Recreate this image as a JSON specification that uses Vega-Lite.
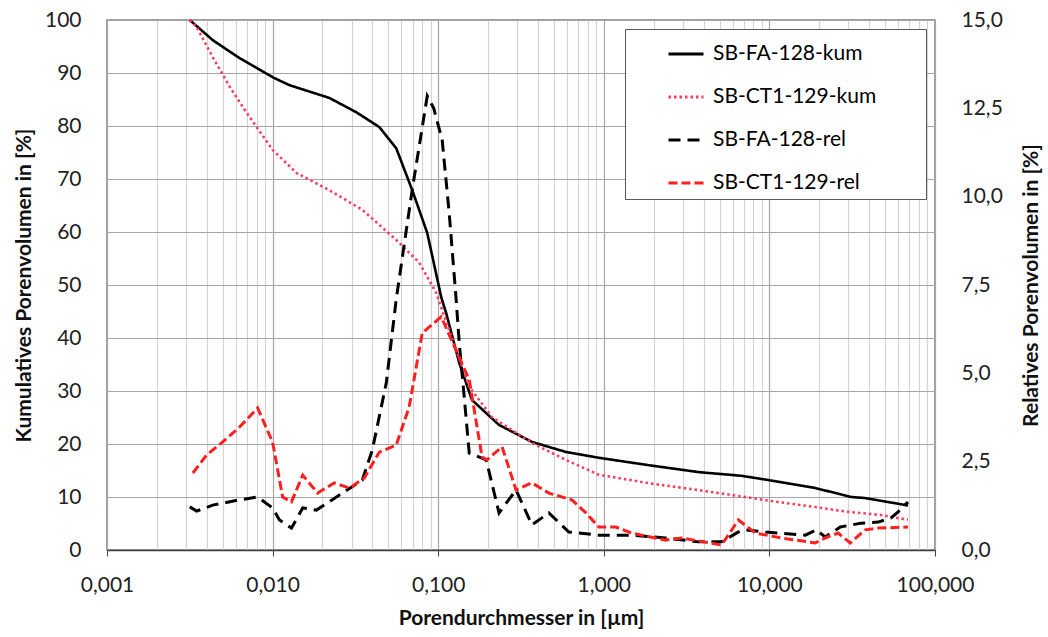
{
  "$schema": "https://vega.github.io/schema/vega-lite/v6.json",
  "width": 828,
  "height": 530,
  "autosize": {"type": "none"},
  "padding": {"left": 107, "top": 20, "right": 113, "bottom": 87},
  "background": "white",
  "config": {
    "font": "Lato",
    "view": {"stroke": "#808080", "strokeWidth": 1.5},
    "axis": {"labelFont": "Lato", "titleFont": "Lato", "labelFontSize": 21, "titleFontSize": 21, "titleFontWeight": "bold", "labelColor": "#222", "titleColor": "#111"},
    "legend": {"labelFont": "Lato"}
  },
  "data": {
    "values": [
      {"d": 0.00316, "v": 100, "s": "SB-FA-128-kum", "k": "kum"},
      {"d": 0.00435, "v": 96.2, "s": "SB-FA-128-kum", "k": "kum"},
      {"d": 0.00632, "v": 92.8, "s": "SB-FA-128-kum", "k": "kum"},
      {"d": 0.0100, "v": 89.2, "s": "SB-FA-128-kum", "k": "kum"},
      {"d": 0.01265, "v": 87.7, "s": "SB-FA-128-kum", "k": "kum"},
      {"d": 0.0220, "v": 85.3, "s": "SB-FA-128-kum", "k": "kum"},
      {"d": 0.0320, "v": 82.6, "s": "SB-FA-128-kum", "k": "kum"},
      {"d": 0.0441, "v": 79.8, "s": "SB-FA-128-kum", "k": "kum"},
      {"d": 0.0558, "v": 75.8, "s": "SB-FA-128-kum", "k": "kum"},
      {"d": 0.0697, "v": 67.9, "s": "SB-FA-128-kum", "k": "kum"},
      {"d": 0.0859, "v": 59.8, "s": "SB-FA-128-kum", "k": "kum"},
      {"d": 0.1043, "v": 47.7, "s": "SB-FA-128-kum", "k": "kum"},
      {"d": 0.1117, "v": 44.7, "s": "SB-FA-128-kum", "k": "kum"},
      {"d": 0.134, "v": 35.3, "s": "SB-FA-128-kum", "k": "kum"},
      {"d": 0.160, "v": 28.3, "s": "SB-FA-128-kum", "k": "kum"},
      {"d": 0.233, "v": 23.6, "s": "SB-FA-128-kum", "k": "kum"},
      {"d": 0.368, "v": 20.4, "s": "SB-FA-128-kum", "k": "kum"},
      {"d": 0.590, "v": 18.5, "s": "SB-FA-128-kum", "k": "kum"},
      {"d": 0.933, "v": 17.4, "s": "SB-FA-128-kum", "k": "kum"},
      {"d": 1.87, "v": 16.0, "s": "SB-FA-128-kum", "k": "kum"},
      {"d": 3.73, "v": 14.7, "s": "SB-FA-128-kum", "k": "kum"},
      {"d": 6.78, "v": 14.0, "s": "SB-FA-128-kum", "k": "kum"},
      {"d": 9.86, "v": 13.2, "s": "SB-FA-128-kum", "k": "kum"},
      {"d": 18.9, "v": 11.7, "s": "SB-FA-128-kum", "k": "kum"},
      {"d": 31.2, "v": 10.0, "s": "SB-FA-128-kum", "k": "kum"},
      {"d": 37.9, "v": 9.8, "s": "SB-FA-128-kum", "k": "kum"},
      {"d": 68.7, "v": 8.4, "s": "SB-FA-128-kum", "k": "kum"},

      {"d": 0.00316, "v": 100, "s": "SB-CT1-129-kum", "k": "kum"},
      {"d": 0.00348, "v": 98.7, "s": "SB-CT1-129-kum", "k": "kum"},
      {"d": 0.00435, "v": 93.0, "s": "SB-CT1-129-kum", "k": "kum"},
      {"d": 0.00551, "v": 87.4, "s": "SB-CT1-129-kum", "k": "kum"},
      {"d": 0.00697, "v": 82.5, "s": "SB-CT1-129-kum", "k": "kum"},
      {"d": 0.0100, "v": 75.5, "s": "SB-CT1-129-kum", "k": "kum"},
      {"d": 0.0140, "v": 71.1, "s": "SB-CT1-129-kum", "k": "kum"},
      {"d": 0.0220, "v": 67.9, "s": "SB-CT1-129-kum", "k": "kum"},
      {"d": 0.0348, "v": 64.2, "s": "SB-CT1-129-kum", "k": "kum"},
      {"d": 0.0558, "v": 58.5, "s": "SB-CT1-129-kum", "k": "kum"},
      {"d": 0.0769, "v": 54.2, "s": "SB-CT1-129-kum", "k": "kum"},
      {"d": 0.0973, "v": 48.5, "s": "SB-CT1-129-kum", "k": "kum"},
      {"d": 0.1165, "v": 41.5, "s": "SB-CT1-129-kum", "k": "kum"},
      {"d": 0.154, "v": 30.8, "s": "SB-CT1-129-kum", "k": "kum"},
      {"d": 0.211, "v": 25.1, "s": "SB-CT1-129-kum", "k": "kum"},
      {"d": 0.368, "v": 20.2, "s": "SB-CT1-129-kum", "k": "kum"},
      {"d": 0.590, "v": 17.0, "s": "SB-CT1-129-kum", "k": "kum"},
      {"d": 0.933, "v": 14.2, "s": "SB-CT1-129-kum", "k": "kum"},
      {"d": 1.87, "v": 12.6, "s": "SB-CT1-129-kum", "k": "kum"},
      {"d": 3.73, "v": 11.3, "s": "SB-CT1-129-kum", "k": "kum"},
      {"d": 7.16, "v": 10.0, "s": "SB-CT1-129-kum", "k": "kum"},
      {"d": 9.46, "v": 9.4, "s": "SB-CT1-129-kum", "k": "kum"},
      {"d": 18.9, "v": 8.1, "s": "SB-CT1-129-kum", "k": "kum"},
      {"d": 29.9, "v": 7.2, "s": "SB-CT1-129-kum", "k": "kum"},
      {"d": 47.3, "v": 6.6, "s": "SB-CT1-129-kum", "k": "kum"},
      {"d": 68.7, "v": 5.7, "s": "SB-CT1-129-kum", "k": "kum"},

      {"d": 0.00316, "v": 1.22, "s": "SB-FA-128-rel", "k": "rel"},
      {"d": 0.00348, "v": 1.10, "s": "SB-FA-128-rel", "k": "rel"},
      {"d": 0.00435, "v": 1.27, "s": "SB-FA-128-rel", "k": "rel"},
      {"d": 0.00632, "v": 1.42, "s": "SB-FA-128-rel", "k": "rel"},
      {"d": 0.00812, "v": 1.50, "s": "SB-FA-128-rel", "k": "rel"},
      {"d": 0.0100, "v": 1.19, "s": "SB-FA-128-rel", "k": "rel"},
      {"d": 0.0110, "v": 0.85, "s": "SB-FA-128-rel", "k": "rel"},
      {"d": 0.0130, "v": 0.62, "s": "SB-FA-128-rel", "k": "rel"},
      {"d": 0.0152, "v": 1.19, "s": "SB-FA-128-rel", "k": "rel"},
      {"d": 0.0184, "v": 1.13, "s": "SB-FA-128-rel", "k": "rel"},
      {"d": 0.0243, "v": 1.50, "s": "SB-FA-128-rel", "k": "rel"},
      {"d": 0.0348, "v": 1.98, "s": "SB-FA-128-rel", "k": "rel"},
      {"d": 0.0400, "v": 2.83, "s": "SB-FA-128-rel", "k": "rel"},
      {"d": 0.0486, "v": 4.73, "s": "SB-FA-128-rel", "k": "rel"},
      {"d": 0.0558, "v": 7.1, "s": "SB-FA-128-rel", "k": "rel"},
      {"d": 0.0697, "v": 10.2, "s": "SB-FA-128-rel", "k": "rel"},
      {"d": 0.0859, "v": 12.85, "s": "SB-FA-128-rel", "k": "rel"},
      {"d": 0.0940, "v": 12.5, "s": "SB-FA-128-rel", "k": "rel"},
      {"d": 0.1057, "v": 11.6, "s": "SB-FA-128-rel", "k": "rel"},
      {"d": 0.1165, "v": 9.54, "s": "SB-FA-128-rel", "k": "rel"},
      {"d": 0.128, "v": 7.16, "s": "SB-FA-128-rel", "k": "rel"},
      {"d": 0.134, "v": 5.86, "s": "SB-FA-128-rel", "k": "rel"},
      {"d": 0.1436, "v": 4.33, "s": "SB-FA-128-rel", "k": "rel"},
      {"d": 0.154, "v": 2.74, "s": "SB-FA-128-rel", "k": "rel"},
      {"d": 0.195, "v": 2.55, "s": "SB-FA-128-rel", "k": "rel"},
      {"d": 0.233, "v": 1.05, "s": "SB-FA-128-rel", "k": "rel"},
      {"d": 0.295, "v": 1.70, "s": "SB-FA-128-rel", "k": "rel"},
      {"d": 0.368, "v": 0.71, "s": "SB-FA-128-rel", "k": "rel"},
      {"d": 0.466, "v": 1.05, "s": "SB-FA-128-rel", "k": "rel"},
      {"d": 0.615, "v": 0.51, "s": "SB-FA-128-rel", "k": "rel"},
      {"d": 0.933, "v": 0.42, "s": "SB-FA-128-rel", "k": "rel"},
      {"d": 1.47, "v": 0.42, "s": "SB-FA-128-rel", "k": "rel"},
      {"d": 2.36, "v": 0.34, "s": "SB-FA-128-rel", "k": "rel"},
      {"d": 3.73, "v": 0.23, "s": "SB-FA-128-rel", "k": "rel"},
      {"d": 5.14, "v": 0.23, "s": "SB-FA-128-rel", "k": "rel"},
      {"d": 6.50, "v": 0.51, "s": "SB-FA-128-rel", "k": "rel"},
      {"d": 7.16, "v": 0.57, "s": "SB-FA-128-rel", "k": "rel"},
      {"d": 9.46, "v": 0.51, "s": "SB-FA-128-rel", "k": "rel"},
      {"d": 16.5, "v": 0.42, "s": "SB-FA-128-rel", "k": "rel"},
      {"d": 19.2, "v": 0.57, "s": "SB-FA-128-rel", "k": "rel"},
      {"d": 21.7, "v": 0.37, "s": "SB-FA-128-rel", "k": "rel"},
      {"d": 26.8, "v": 0.65, "s": "SB-FA-128-rel", "k": "rel"},
      {"d": 35.8, "v": 0.76, "s": "SB-FA-128-rel", "k": "rel"},
      {"d": 45.4, "v": 0.79, "s": "SB-FA-128-rel", "k": "rel"},
      {"d": 54.3, "v": 0.91, "s": "SB-FA-128-rel", "k": "rel"},
      {"d": 59.9, "v": 1.08, "s": "SB-FA-128-rel", "k": "rel"},
      {"d": 68.7, "v": 1.36, "s": "SB-FA-128-rel", "k": "rel"},

      {"d": 0.00330, "v": 2.18, "s": "SB-CT1-129-rel", "k": "rel"},
      {"d": 0.00400, "v": 2.69, "s": "SB-CT1-129-rel", "k": "rel"},
      {"d": 0.00500, "v": 3.06, "s": "SB-CT1-129-rel", "k": "rel"},
      {"d": 0.00632, "v": 3.48, "s": "SB-CT1-129-rel", "k": "rel"},
      {"d": 0.00812, "v": 4.02, "s": "SB-CT1-129-rel", "k": "rel"},
      {"d": 0.0100, "v": 3.05, "s": "SB-CT1-129-rel", "k": "rel"},
      {"d": 0.0115, "v": 1.50, "s": "SB-CT1-129-rel", "k": "rel"},
      {"d": 0.0130, "v": 1.36, "s": "SB-CT1-129-rel", "k": "rel"},
      {"d": 0.0152, "v": 2.12, "s": "SB-CT1-129-rel", "k": "rel"},
      {"d": 0.0187, "v": 1.61, "s": "SB-CT1-129-rel", "k": "rel"},
      {"d": 0.0236, "v": 1.90, "s": "SB-CT1-129-rel", "k": "rel"},
      {"d": 0.0291, "v": 1.75, "s": "SB-CT1-129-rel", "k": "rel"},
      {"d": 0.0358, "v": 2.04, "s": "SB-CT1-129-rel", "k": "rel"},
      {"d": 0.0441, "v": 2.77, "s": "SB-CT1-129-rel", "k": "rel"},
      {"d": 0.0558, "v": 2.97, "s": "SB-CT1-129-rel", "k": "rel"},
      {"d": 0.0668, "v": 4.05, "s": "SB-CT1-129-rel", "k": "rel"},
      {"d": 0.0801, "v": 6.14, "s": "SB-CT1-129-rel", "k": "rel"},
      {"d": 0.1043, "v": 6.6, "s": "SB-CT1-129-rel", "k": "rel"},
      {"d": 0.128, "v": 5.66, "s": "SB-CT1-129-rel", "k": "rel"},
      {"d": 0.154, "v": 4.81, "s": "SB-CT1-129-rel", "k": "rel"},
      {"d": 0.184, "v": 2.63, "s": "SB-CT1-129-rel", "k": "rel"},
      {"d": 0.197, "v": 2.55, "s": "SB-CT1-129-rel", "k": "rel"},
      {"d": 0.243, "v": 2.92, "s": "SB-CT1-129-rel", "k": "rel"},
      {"d": 0.295, "v": 1.70, "s": "SB-CT1-129-rel", "k": "rel"},
      {"d": 0.368, "v": 1.90, "s": "SB-CT1-129-rel", "k": "rel"},
      {"d": 0.466, "v": 1.61, "s": "SB-CT1-129-rel", "k": "rel"},
      {"d": 0.641, "v": 1.42, "s": "SB-CT1-129-rel", "k": "rel"},
      {"d": 0.780, "v": 1.05, "s": "SB-CT1-129-rel", "k": "rel"},
      {"d": 0.933, "v": 0.65, "s": "SB-CT1-129-rel", "k": "rel"},
      {"d": 1.18, "v": 0.65, "s": "SB-CT1-129-rel", "k": "rel"},
      {"d": 1.47, "v": 0.48, "s": "SB-CT1-129-rel", "k": "rel"},
      {"d": 2.36, "v": 0.28, "s": "SB-CT1-129-rel", "k": "rel"},
      {"d": 2.95, "v": 0.34, "s": "SB-CT1-129-rel", "k": "rel"},
      {"d": 5.14, "v": 0.14, "s": "SB-CT1-129-rel", "k": "rel"},
      {"d": 6.50, "v": 0.85, "s": "SB-CT1-129-rel", "k": "rel"},
      {"d": 8.24, "v": 0.48, "s": "SB-CT1-129-rel", "k": "rel"},
      {"d": 11.8, "v": 0.34, "s": "SB-CT1-129-rel", "k": "rel"},
      {"d": 18.9, "v": 0.20, "s": "SB-CT1-129-rel", "k": "rel"},
      {"d": 21.7, "v": 0.34, "s": "SB-CT1-129-rel", "k": "rel"},
      {"d": 26.0, "v": 0.48, "s": "SB-CT1-129-rel", "k": "rel"},
      {"d": 30.8, "v": 0.20, "s": "SB-CT1-129-rel", "k": "rel"},
      {"d": 37.9, "v": 0.57, "s": "SB-CT1-129-rel", "k": "rel"},
      {"d": 45.4, "v": 0.62, "s": "SB-CT1-129-rel", "k": "rel"},
      {"d": 68.7, "v": 0.65, "s": "SB-CT1-129-rel", "k": "rel"}
    ]
  },
  "encoding": {
    "x": {
      "field": "d", "type": "quantitative",
      "scale": {"type": "log", "domain": [0.001, 100], "nice": false},
      "axis": {
        "title": "Porendurchmesser in [µm]",
        "values": [0.001,0.002,0.003,0.004,0.005,0.006,0.007,0.008,0.009,0.01,0.02,0.03,0.04,0.05,0.06,0.07,0.08,0.09,0.1,0.2,0.3,0.4,0.5,0.6,0.7,0.8,0.9,1,2,3,4,5,6,7,8,9,10,20,30,40,50,60,70,80,90,100],
        "labelExpr": "abs(log(datum.value)/LN10 - round(log(datum.value)/LN10)) < 0.01 ? replace(format(datum.value, '.3f'), '.', ',') : ''",
        "grid": true,
        "gridColor": {"condition": {"test": "abs(log(datum.value)/LN10 - round(log(datum.value)/LN10)) < 0.01", "value": "#a6a6a6"}, "value": "#d4d4d4"},
        "gridWidth": 1.2,
        "ticks": true,
        "tickSize": 6,
        "tickColor": {"condition": {"test": "abs(log(datum.value)/LN10 - round(log(datum.value)/LN10)) < 0.01", "value": "#404040"}, "value": "transparent"},
        "domainColor": "#404040",
        "domainWidth": 1.5,
        "labelPadding": 18,
        "labelFlush": false,
        "labelOverlap": false,
        "titlePadding": 12
      }
    },
    "color": {
      "field": "s", "type": "nominal",
      "scale": {"domain": ["SB-FA-128-kum", "SB-CT1-129-kum", "SB-FA-128-rel", "SB-CT1-129-rel"], "range": ["#000000", "#ff3b5c", "#000000", "#ff1f1f"]},
      "legend": {
        "title": null, "orient": "none", "legendX": 518, "legendY": 9,
        "symbolType": "stroke", "symbolSize": 1225, "symbolStrokeWidth": 3,
        "labelFontSize": 21, "labelOffset": 8, "rowPadding": 14, "labelLimit": 500,
        "padding": 6, "symbolOffset": 36,
        "strokeColor": "#595959", "fillColor": "white",
        "labelExpr": "datum.label + '\u00a0\u00a0\u00a0\u00a0\u00a0\u00a0\u00a0\u00a0\u200b'"
      }
    },
    "strokeDash": {
      "field": "s", "type": "nominal",
      "scale": {"domain": ["SB-FA-128-kum", "SB-CT1-129-kum", "SB-FA-128-rel", "SB-CT1-129-rel"], "range": [[1, 0], [2.5, 3], [12, 7], [9, 4]]},
      "legend": {
        "title": null, "orient": "none", "legendX": 518, "legendY": 9,
        "symbolType": "stroke", "symbolSize": 1225, "symbolStrokeWidth": 3,
        "labelFontSize": 21, "labelOffset": 8, "rowPadding": 14, "labelLimit": 500,
        "padding": 6, "symbolOffset": 36,
        "strokeColor": "#595959", "fillColor": "white",
        "labelExpr": "datum.label + '\u00a0\u00a0\u00a0\u00a0\u00a0\u00a0\u00a0\u00a0\u200b'"
      }
    }
  },
  "layer": [
    {
      "transform": [{"filter": "datum.k == 'kum'"}],
      "mark": {"type": "line", "strokeWidth": 2.6},
      "encoding": {
        "y": {
          "field": "v", "type": "quantitative",
          "scale": {"domain": [0, 100], "nice": false},
          "axis": {
            "title": "Kumulatives Porenvolumen in [%]",
            "orient": "left",
            "values": [0,10,20,30,40,50,60,70,80,90,100],
            "grid": true, "gridColor": "#a6a6a6", "gridWidth": 1.2,
            "ticks": false, "domain": false,
            "labelPadding": 26, "titlePadding": 10
          }
        }
      }
    },
    {
      "transform": [{"filter": "datum.k == 'rel'"}],
      "mark": {"type": "line", "strokeWidth": 3},
      "encoding": {
        "y": {
          "field": "v", "type": "quantitative",
          "scale": {"domain": [0, 15], "nice": false},
          "axis": {
            "title": "Relatives Porenvolumen in [%]",
            "orient": "right",
            "titleAngle": 270,
            "values": [0, 2.5, 5, 7.5, 10, 12.5, 15],
            "labelExpr": "replace(format(datum.value, '.1f'), '.', ',')",
            "grid": false, "ticks": false, "domain": false,
            "labelPadding": 26, "titlePadding": 39
          }
        }
      }
    }
  ],
  "resolve": {"scale": {"y": "independent"}}
}
